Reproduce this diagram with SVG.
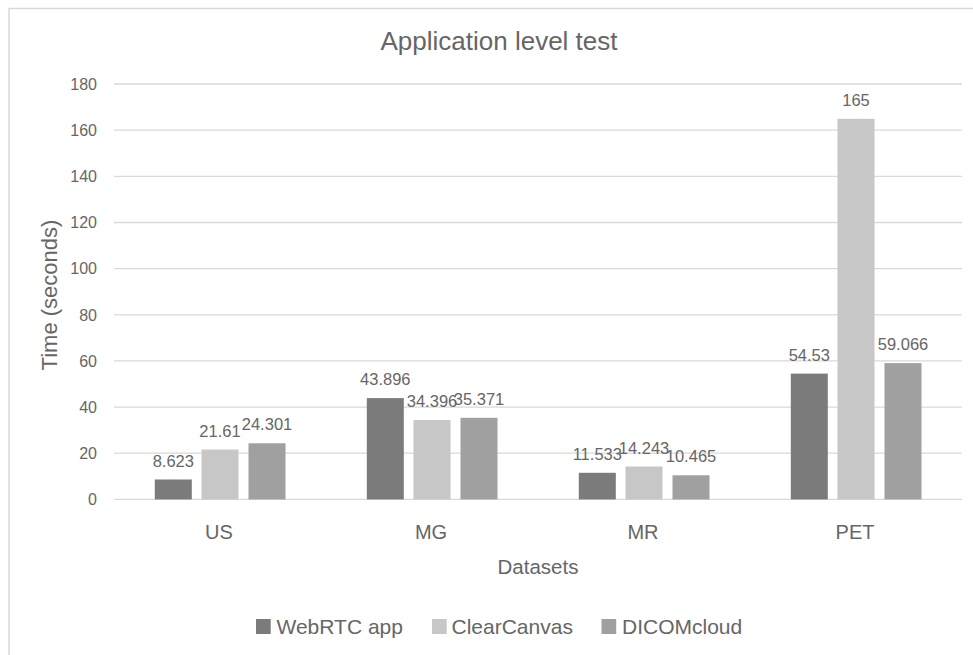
<svg xmlns="http://www.w3.org/2000/svg" width="973" height="655" viewBox="0 0 973 655">
  <style>
    text { font-family: "Liberation Sans", Arial, sans-serif; fill: #666666; }
    .grid { stroke: #d9d9d9; stroke-width: 1.3; }
    .tick { font-size: 16px; text-anchor: end; }
    .val { font-size: 16.5px; text-anchor: middle; }
    .cat { font-size: 20px; text-anchor: middle; }
    .leg { font-size: 21px; }
    .s1 { fill: #7b7b7b; }
    .s2 { fill: #c6c7c6; }
    .s3 { fill: #a0a0a0; }
  </style>

  <!-- chart frame -->
  <rect x="0" y="0" width="973" height="655" fill="#ffffff"/>
  <path d="M9 655 V8.5 H973" fill="none" stroke="#d9d9d9" stroke-width="1.5"/>

  <!-- title -->
  <text x="499" y="50" font-size="26" text-anchor="middle">Application level test</text>

  <!-- gridlines and y-axis ticks -->
  <g id="grid">
    <line class="grid" x1="114" y1="84" x2="962" y2="84"/>
    <line class="grid" x1="114" y1="130.2" x2="962" y2="130.2"/>
    <line class="grid" x1="114" y1="176.3" x2="962" y2="176.3"/>
    <line class="grid" x1="114" y1="222.5" x2="962" y2="222.5"/>
    <line class="grid" x1="114" y1="268.6" x2="962" y2="268.6"/>
    <line class="grid" x1="114" y1="314.8" x2="962" y2="314.8"/>
    <line class="grid" x1="114" y1="360.9" x2="962" y2="360.9"/>
    <line class="grid" x1="114" y1="407.1" x2="962" y2="407.1"/>
    <line class="grid" x1="114" y1="453.2" x2="962" y2="453.2"/>
    <line class="grid" x1="114" y1="499.4" x2="962" y2="499.4"/>
  </g>
  <g id="yticks">
    <text class="tick" x="97" y="89.7">180</text>
    <text class="tick" x="97" y="135.9">160</text>
    <text class="tick" x="97" y="182">140</text>
    <text class="tick" x="97" y="228.2">120</text>
    <text class="tick" x="97" y="274.3">100</text>
    <text class="tick" x="97" y="320.5">80</text>
    <text class="tick" x="97" y="366.6">60</text>
    <text class="tick" x="97" y="412.8">40</text>
    <text class="tick" x="97" y="458.9">20</text>
    <text class="tick" x="97" y="505.1">0</text>
  </g>

  <!-- axis titles -->
  <text x="57" y="295" font-size="22" text-anchor="middle" transform="rotate(-90 57 295)">Time (seconds)</text>
  <text x="538" y="574" font-size="20.5" text-anchor="middle">Datasets</text>

  <!-- US -->
  <g id="US">
    <rect class="s1" x="154.8" y="479.5" width="37" height="19.9"/>
    <rect class="s2" x="201.5" y="449.5" width="37" height="49.9"/>
    <rect class="s3" x="248.5" y="443.3" width="37" height="56.1"/>
    <text class="val" x="173.3" y="466.5">8.623</text>
    <text class="val" x="220" y="436.5">21.61</text>
    <text class="val" x="267" y="430.3">24.301</text>
    <text class="cat" x="219" y="538.5">US</text>
  </g>

  <!-- MG -->
  <g id="MG">
    <rect class="s1" x="366.8" y="398.1" width="37" height="101.3"/>
    <rect class="s2" x="413.5" y="420.0" width="37" height="79.4"/>
    <rect class="s3" x="460.5" y="417.8" width="37" height="81.6"/>
    <text class="val" x="385.3" y="385.1">43.896</text>
    <text class="val" x="432" y="407">34.396</text>
    <text class="val" x="479" y="404.8">35.371</text>
    <text class="cat" x="431" y="538.5">MG</text>
  </g>

  <!-- MR -->
  <g id="MR">
    <rect class="s1" x="578.8" y="472.8" width="37" height="26.6"/>
    <rect class="s2" x="625.5" y="466.5" width="37" height="32.9"/>
    <rect class="s3" x="672.5" y="475.3" width="37" height="24.1"/>
    <text class="val" x="597.3" y="459.8">11.533</text>
    <text class="val" x="644" y="453.5">14.243</text>
    <text class="val" x="691" y="462.3">10.465</text>
    <text class="cat" x="643" y="538.5">MR</text>
  </g>

  <!-- PET -->
  <g id="PET">
    <rect class="s1" x="790.8" y="373.6" width="37" height="125.8"/>
    <rect class="s2" x="837.5" y="118.8" width="37" height="380.6"/>
    <rect class="s3" x="884.5" y="363.1" width="37" height="136.3"/>
    <text class="val" x="809.3" y="360.6">54.53</text>
    <text class="val" x="856" y="105.8">165</text>
    <text class="val" x="903" y="350.1">59.066</text>
    <text class="cat" x="855" y="538.5">PET</text>
  </g>

  <!-- legend -->
  <g id="legend">
    <rect class="s1" x="256" y="619" width="14.7" height="15"/>
    <text class="leg" x="276.5" y="633.5">WebRTC app</text>
    <rect class="s2" x="432" y="619" width="14.7" height="15"/>
    <text class="leg" x="451.5" y="633.5">ClearCanvas</text>
    <rect class="s3" x="601.5" y="619" width="14.7" height="15"/>
    <text class="leg" x="622" y="633.5">DICOMcloud</text>
  </g>
</svg>
